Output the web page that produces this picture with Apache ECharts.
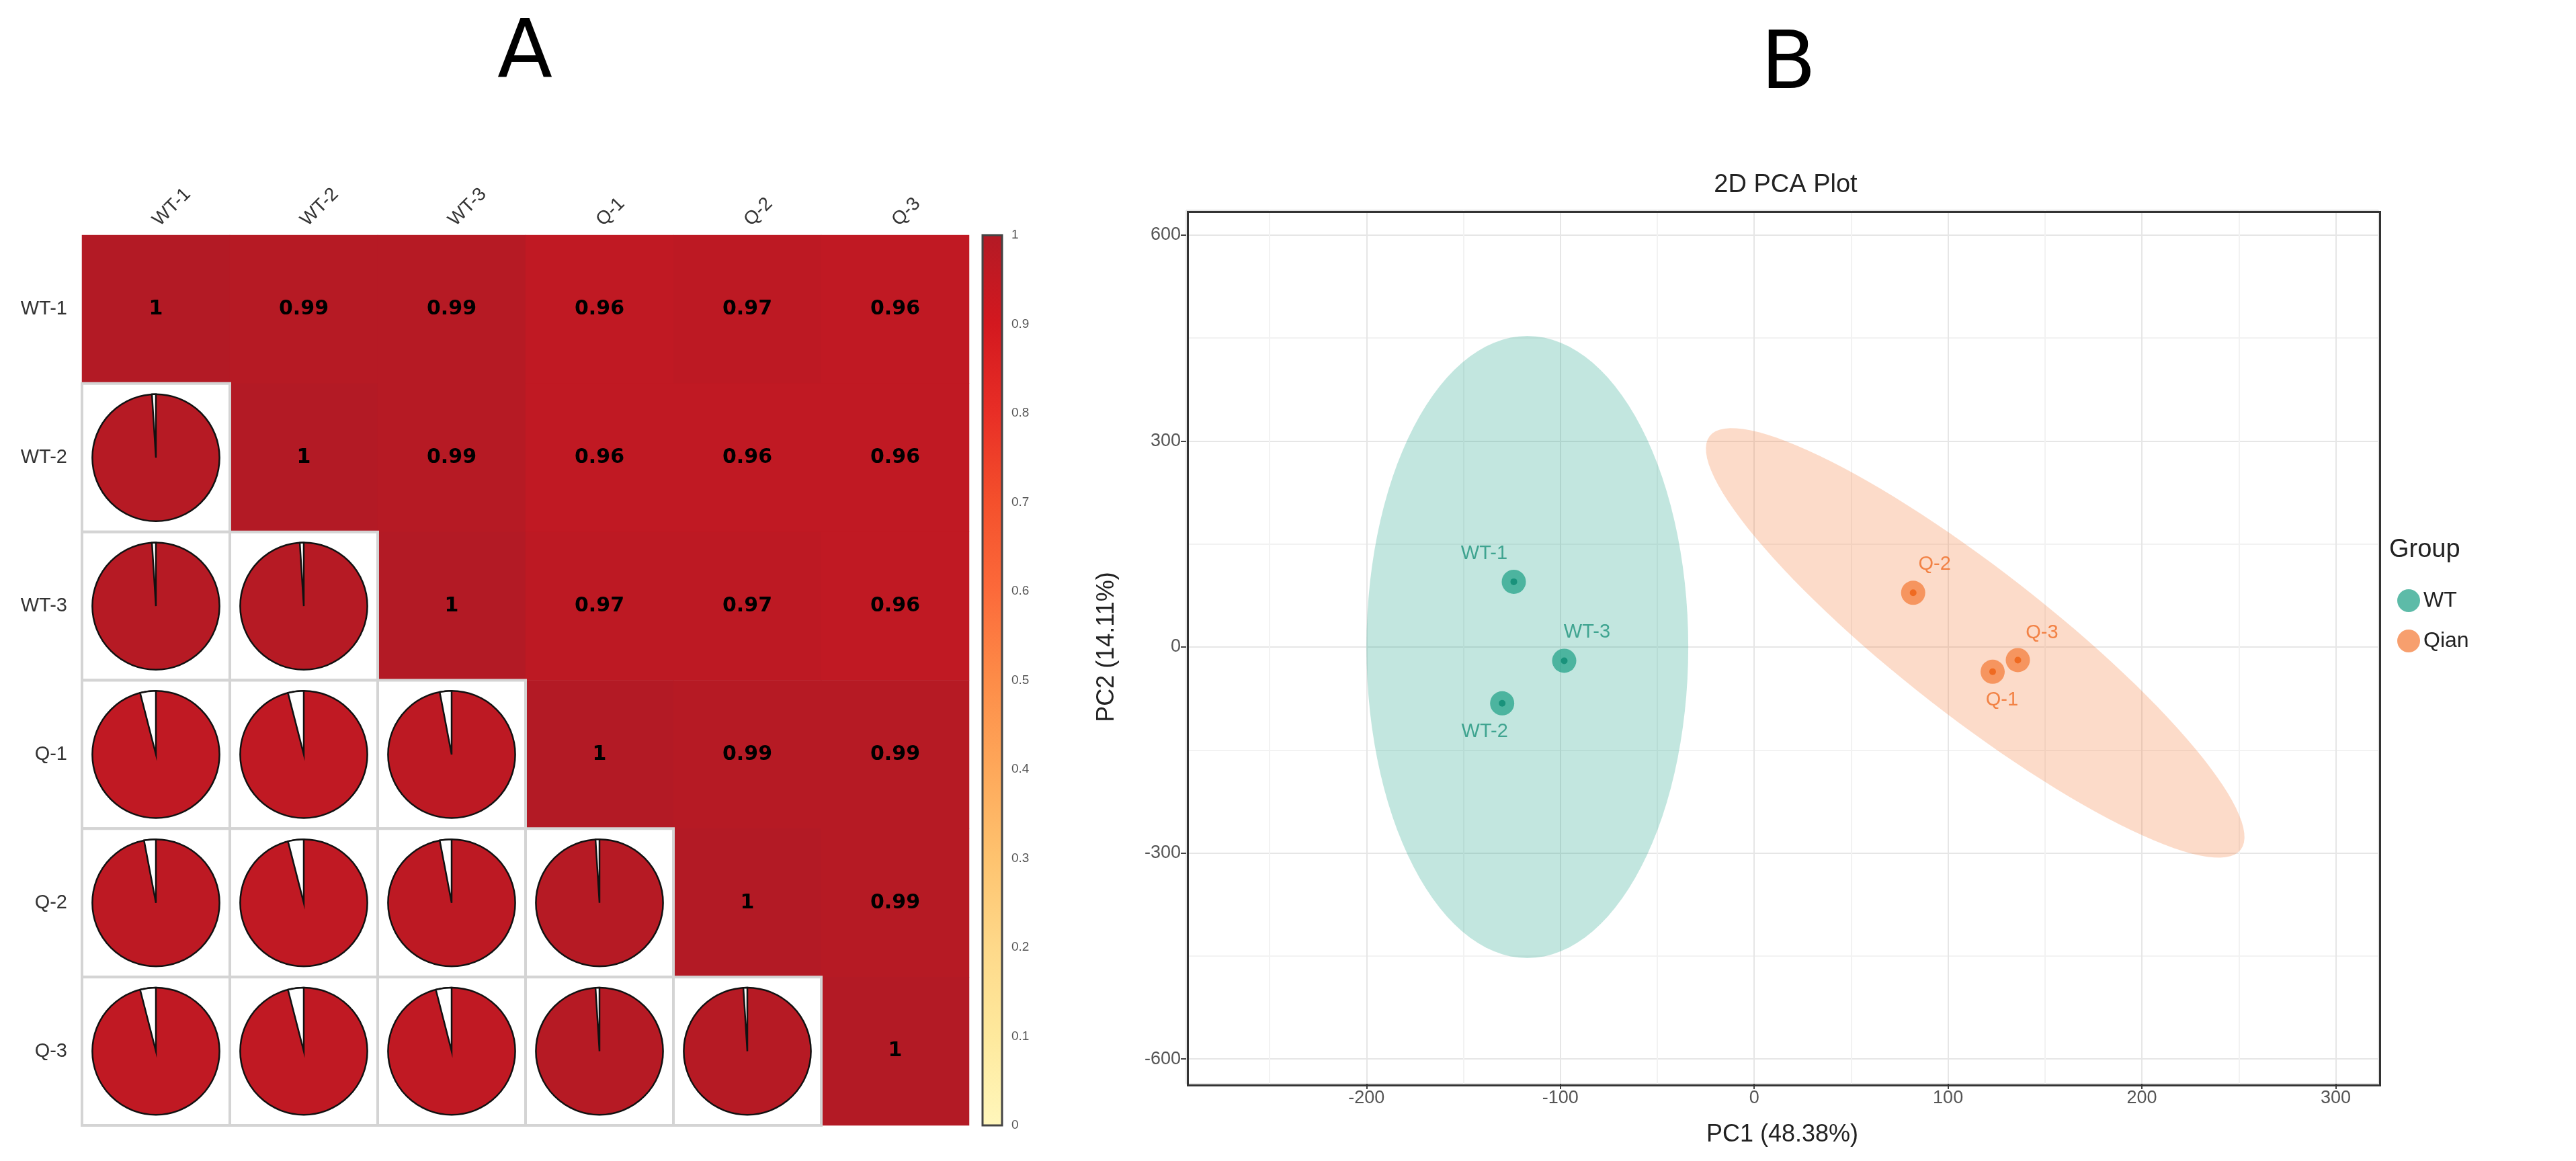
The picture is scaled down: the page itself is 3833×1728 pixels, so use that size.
<!DOCTYPE html>
<html>
<head>
<meta charset="utf-8">
<script src="https://cdn.jsdelivr.net/npm/echarts@6/dist/echarts.min.js"></script>
<style>
  html, body { margin: 0; padding: 0; background: #fff; }
  #main { width: 3833px; height: 1728px; }
</style>
</head>
<body>
<div id="main"></div>
<script>
// correlation matrix (panel A)
var samples = ['WT-1', 'WT-2', 'WT-3', 'Q-1', 'Q-2', 'Q-3'];
var corWT1 = [1, 0.99, 0.99, 0.96, 0.97, 0.96];
var corWT2 = [0.99, 1, 0.99, 0.96, 0.96, 0.96];
var corWT3 = [0.99, 0.99, 1, 0.97, 0.97, 0.96];
var corQ1 = [0.96, 0.96, 0.97, 1, 0.99, 0.99];
var corQ2 = [0.97, 0.96, 0.97, 0.99, 1, 0.99];
var corQ3 = [0.96, 0.96, 0.96, 0.99, 0.99, 1];
var colorbarTicks = [0, 0.1, 0.2, 0.3, 0.4, 0.5, 0.6, 0.7, 0.8, 0.9, 1];

// PCA scores (panel B)
var wtNames = ['WT-1', 'WT-2', 'WT-3'];
var wtPC1 = [-124, -130, -98];
var wtPC2 = [95, -82, -20];
var qNames = ['Q-1', 'Q-2', 'Q-3'];
var qPC1 = [123, 82, 136];
var qPC2 = [-36, 79, -19];
// confidence ellipses: centre, first and second conjugate semi-axes
var wtEllipse = [-117, 0, 0, 453, 83, 0];
var qEllipse = [114, 6, -137, 301, 23, 85];

var palette = ['#fff7bc', '#fee99d', '#fed98a', '#fec36f', '#fea85a', '#fd8c48',
               '#fc6a3a', '#f4502c', '#e82e26', '#d3181f', '#b31a25'];
var teal = '#1fa187', orange = '#f47a36';

var rows = [corWT1, corWT2, corWT3, corQ1, corQ2, corQ3];
var upper = [], lower = [];
rows.forEach(function (row, i) {
    row.forEach(function (v, j) {
        if (j >= i) upper.push([j, i, v]); else lower.push([j, i, v]);
    });
});

function toPoints(xs, ys, names) {
    return xs.map(function (x, k) { return { name: names[k], value: [x, ys[k]] }; });
}
var labelPos = { 'WT-1': [-44, -42], 'WT-2': [-26, 42], 'WT-3': [34, -42],
                 'Q-1': [14, 42], 'Q-2': [32, -42], 'Q-3': [36, -40] };

function ellipseSeries(p, color) {
    return {
        type: 'custom', xAxisIndex: 2, yAxisIndex: 2, silent: true, z: 1,
        data: [[p[0], p[1]]],
        renderItem: function (params, api) {
            var pts = [];
            for (var k = 0; k < 120; k++) {
                var t = k / 120 * Math.PI * 2;
                pts.push(api.coord([p[0] + p[2] * Math.cos(t) + p[4] * Math.sin(t),
                                    p[1] + p[3] * Math.cos(t) + p[5] * Math.sin(t)]));
            }
            return { type: 'polygon', shape: { points: pts }, style: { fill: color, opacity: 0.27 } };
        }
    };
}

function pointSeries(name, data, color, dark) {
    return [{
        name: name, type: 'scatter', xAxisIndex: 2, yAxisIndex: 2, z: 3,
        symbolSize: 36, data: data,
        itemStyle: { color: color, opacity: 0.72 },
        label: {
            show: true, color: dark, fontSize: 29, fontFamily: 'Liberation Sans',
            formatter: '{b}', position: 'inside'
        },
        labelLayout: function (p) {
            var o = labelPos[data[p.dataIndex].name];
            return { dx: o[0], dy: o[1] };
        }
    }, {
        name: name, type: 'scatter', xAxisIndex: 2, yAxisIndex: 2, z: 4, silent: true,
        symbolSize: 10, data: data, itemStyle: { color: dark }
    }];
}

var myChart = echarts.init(document.getElementById('main'));
var option = {
    backgroundColor: '#fff',
    animation: false,
    textStyle: { fontFamily: 'Liberation Sans' },
    title: [
        { text: 'A', left: 735, top: 18, textStyle: { fontSize: 120, fontWeight: 'normal', color: '#000', fontFamily: 'DejaVu Sans' } },
        { text: 'B', left: 2615, top: 35, textStyle: { fontSize: 120, fontWeight: 'normal', color: '#000', fontFamily: 'DejaVu Sans' } },
        { text: '2D PCA Plot', left: 2652, textAlign: 'center', top: 252, textStyle: { fontSize: 38, fontWeight: 'normal', color: '#222' } }
    ],
    grid: [
        { left: 122, top: 350, width: 1320, height: 1325 },
        { left: 1462, top: 350, width: 29, height: 1325 },
        { left: 1765, top: 313, width: 1774, height: 1300 }
    ],
    xAxis: [
        { type: 'category', gridIndex: 0, data: samples, position: 'top',
          axisLine: { show: false }, axisTick: { show: false }, splitLine: { show: false },
          axisLabel: { rotate: -45, fontSize: 28, color: '#333', margin: 18 } },
        { type: 'value', gridIndex: 1, show: false },
        { type: 'value', gridIndex: 2, min: -293, max: 322, splitNumber: 6,
          name: 'PC1 (48.38%)', nameLocation: 'middle', nameGap: 58,
          nameTextStyle: { fontSize: 36, color: '#222' },
          axisLine: { show: false, onZero: false },
          axisTick: { show: true, length: 8, lineStyle: { color: '#444', width: 2 } },
          axisLabel: { fontSize: 27, color: '#555', showMinLabel: false, showMaxLabel: false },
          splitLine: { lineStyle: { color: '#e6e6e6', width: 2 } },
          minorTick: { show: false, splitNumber: 2 },
          minorSplitLine: { show: true, lineStyle: { color: '#f2f2f2', width: 2 } } }
    ],
    yAxis: [
        { type: 'category', gridIndex: 0, data: samples, inverse: true,
          axisLine: { show: false }, axisTick: { show: false }, splitLine: { show: false },
          axisLabel: { fontSize: 29, color: '#333', margin: 22 } },
        { type: 'value', gridIndex: 1, min: 0, max: 1, interval: 0.1, position: 'right',
          axisLine: { show: false }, splitLine: { show: false },
          axisTick: { show: true, length: 6, lineStyle: { color: '#666' } },
          axisLabel: { fontSize: 19, color: '#555', margin: 14,
                       formatter: function (v) { return colorbarTicks.indexOf(+v.toFixed(1)) >= 0 ? String(+v.toFixed(1)) : ''; } } },
        { type: 'value', gridIndex: 2, min: -636, max: 636, splitNumber: 4,
          name: 'PC2 (14.11%)', nameLocation: 'middle', nameGap: 100,
          nameTextStyle: { fontSize: 36, color: '#222' },
          axisLine: { show: false, onZero: false },
          axisTick: { show: true, length: 8, lineStyle: { color: '#444', width: 2 } },
          axisLabel: { fontSize: 27, color: '#555', showMinLabel: false, showMaxLabel: false },
          splitLine: { lineStyle: { color: '#e6e6e6', width: 2 } },
          minorTick: { show: false, splitNumber: 2 },
          minorSplitLine: { show: true, lineStyle: { color: '#f2f2f2', width: 2 } } }
    ],
    visualMap: {
        show: false, type: 'continuous', min: 0, max: 1, dimension: 2,
        seriesIndex: [0, 1], inRange: { color: palette }
    },
    legend: {
        data: [{ name: 'WT', icon: 'circle' }, { name: 'Qian', icon: 'circle' }],
        orient: 'vertical', left: 3562, top: 872, itemWidth: 34, itemHeight: 34, itemGap: 26,
        textStyle: { fontSize: 32, color: '#222' }
    },
    graphic: [
        { type: 'text', left: 3555, top: 800, style: { text: 'Group', fontSize: 38, fill: '#222', fontFamily: 'Liberation Sans' } },
        { type: 'rect', left: 1765, top: 313, z: 100, silent: true,
          shape: { width: 1774, height: 1300 }, style: { fill: 'none', stroke: '#333', lineWidth: 3 } }
    ],
    series: [
        { type: 'heatmap', xAxisIndex: 0, yAxisIndex: 0, data: upper,
          label: { show: true, fontSize: 30, fontWeight: 'bold', color: '#000', fontFamily: 'DejaVu Sans' },
          itemStyle: { borderWidth: 0 } },
        { type: 'custom', xAxisIndex: 0, yAxisIndex: 0, data: lower,
          renderItem: function (params, api) {
              var c = api.coord([api.value(0), api.value(1)]);
              var s = api.size([1, 1]);
              var r = s[0] * 0.43;
              var v = api.value(2);
              var top = -Math.PI / 2;
              return { type: 'group', children: [
                  { type: 'rect', shape: { x: c[0] - s[0] / 2, y: c[1] - s[1] / 2, width: s[0], height: s[1] },
                    style: { fill: '#fff', stroke: '#d4d4d4', lineWidth: 4 } },
                  { type: 'circle', shape: { cx: c[0], cy: c[1], r: r },
                    style: { fill: api.visual('color'), stroke: '#111', lineWidth: 2.5 } },
                  { type: 'sector', shape: { cx: c[0], cy: c[1], r0: 0, r: r,
                      startAngle: top - (1 - v) * Math.PI * 2, endAngle: top, clockwise: true },
                    style: { fill: '#fff', stroke: '#111', lineWidth: 2.5 } }
              ] };
          } },
        { type: 'custom', xAxisIndex: 1, yAxisIndex: 1, data: [[0, 0]], silent: true,
          renderItem: function (params) {
              var cs = params.coordSys;
              var stops = palette.map(function (col, k) { return { offset: 1 - k / (palette.length - 1), color: col }; }).reverse();
              return { type: 'rect', shape: { x: cs.x, y: cs.y, width: cs.width, height: cs.height },
                       style: { fill: new echarts.graphic.LinearGradient(0, 0, 0, 1, stops), stroke: '#444', lineWidth: 3 } };
          } },
        ellipseSeries(wtEllipse, teal),
        ellipseSeries(qEllipse, orange)
    ].concat(pointSeries('WT', toPoints(wtPC1, wtPC2, wtNames), teal, '#0d8a72'))
     .concat(pointSeries('Qian', toPoints(qPC1, qPC2, qNames), orange, '#ee5f12'))
};
myChart.setOption(option);
</script>
</body>
</html>
